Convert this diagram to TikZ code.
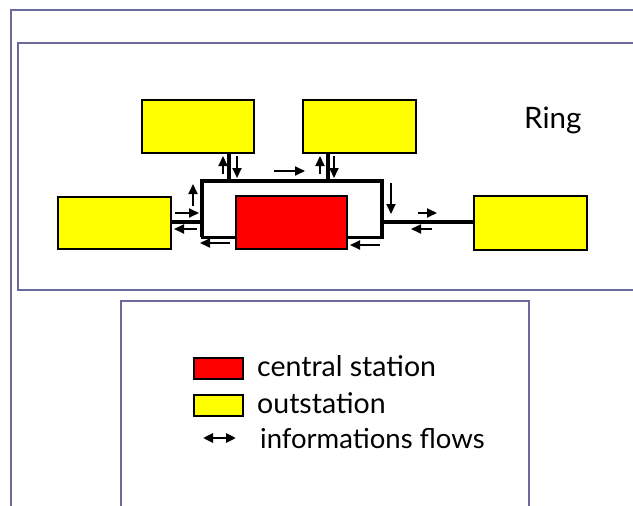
\documentclass[tikz,border=0pt]{standalone}
\usepackage{fontspec}
\setmainfont{Lato}
\usetikzlibrary{arrows.meta,calc}
\definecolor{framec}{RGB}{106,106,154}
\definecolor{ylw}{RGB}{255,255,0}
\definecolor{rd}{RGB}{255,0,0}
\tikzset{
  frameline/.style={draw=framec, line width=2.5pt},
  outst/.style={draw=black, fill=ylw, line width=2pt, inner sep=0pt},
  centr/.style={draw=black, fill=rd, line width=2pt, inner sep=0pt},
  ringline/.style={draw=black, line width=4.5pt},
  flow/.style={draw=black, line width=1.8pt, -{Triangle[length=10pt,width=9pt]}},
  legtext/.style={anchor=base west, inner sep=0pt, font=\fontsize{28.5}{31}\selectfont},
}
\begin{document}
\begin{tikzpicture}[x=1pt,y=-1pt]
\useasboundingbox (0,0) rectangle (633,506);
% frames
\draw[frameline] (11,506) -- (11,10) -- (633,10);
\draw[frameline] (633,43) -- (18,43) -- (18,290) -- (633,290);
\draw[frameline] (121,506) -- (121,301) -- (529,301) -- (529,506);
% ring coordinates
\coordinate (ts1) at (229,181);
\coordinate (ts2) at (328,181);
\coordinate (rl) at (202,222);
\coordinate (rr) at (382,222);
% stations
\node[outst, minimum width=112, minimum height=53] (tl) at (198,126.5) {};
\node[outst, minimum width=113, minimum height=53] (tr) at (359.5,126.5) {};
\node[outst, minimum width=113, minimum height=52] (lf) at (114.5,223) {};
\node[outst, minimum width=113, minimum height=54] (rt) at (530.5,223) {};
% ring
\draw[ringline, line join=miter] (202,237) -- (202,181) -- (382,181) -- (382,237);
\draw[black, line width=3pt] (240,237) -- (200.5,237);
\draw[black, line width=3pt] (383.5,237) -- (344,237);
\node[centr, minimum width=111, minimum height=53] (cs) at (291.5,222.5) {};
% links
\draw[ringline] (ts1 |- tl.south) -- (ts1);
\draw[ringline] (ts2 |- tr.south) -- (ts2);
\draw[ringline] (lf.east |- rl) -- (rl);
\draw[ringline] (rr) -- (rr -| rt.west);
% information flows
\draw[flow] (223,174) -- (223,156);
\draw[flow] (237,156) -- (237,178);
\draw[flow] (320,174) -- (320,156);
\draw[flow] (334,156) -- (334,178);
\draw[flow] (274,171) -- (305,171);
\draw[flow] (391,183) -- (391,214);
\draw[flow] (193,206) -- (193,184);
\draw[flow] (175,213) -- (199,213);
\draw[flow] (197,229) -- (174,229);
\draw[flow] (418,213) -- (437,213);
\draw[flow] (432,229) -- (411,229);
\draw[flow] (230,243) -- (200,243);
\draw[flow] (380,245) -- (350,245);
% label
\node[anchor=base west, inner sep=0pt, font=\fontsize{29.5}{32}\selectfont] (ringlbl) at (524,128) {Ring};
% legend
\node[centr, minimum width=49, minimum height=21] (lgr) at (218.5,368.5) {};
\node[outst, minimum width=49, minimum height=21] (lgy) at (218.5,405.5) {};
\coordinate (la1) at (203,438);
\coordinate (la2) at (236,438);
\draw[black, line width=2.5pt, {Triangle[length=10pt,width=9pt]}-{Triangle[length=10pt,width=9pt]}] (la1) -- (la2);
\node[legtext] (t1) at (257,376) {central station};
\node[legtext] (t2) at (257,413) {outstation};
\node[legtext, font=\fontsize{27.5}{30}\selectfont] (t3) at (260,448) {informations flows};
\end{tikzpicture}
\end{document}
